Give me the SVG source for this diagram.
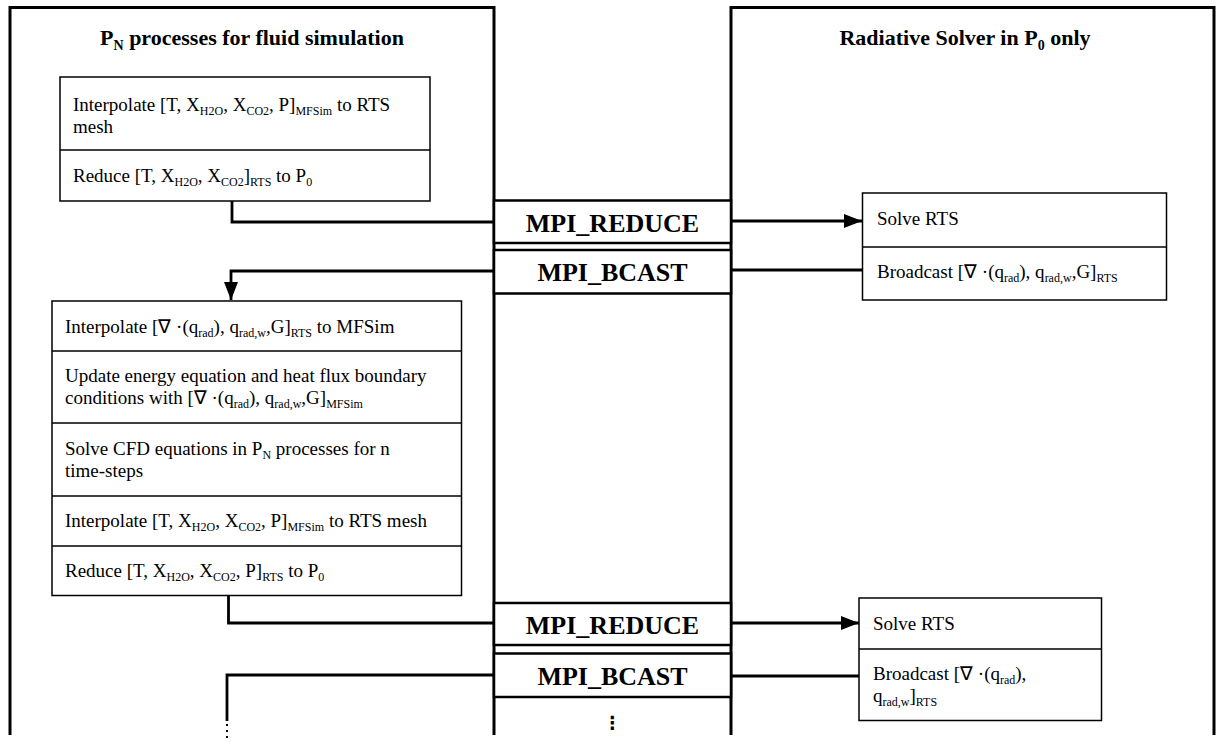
<svg xmlns="http://www.w3.org/2000/svg" width="1216" height="742" viewBox="0 0 1216 742">
<style>
text{font-family:"Liberation Serif","Times New Roman",serif;fill:#000}
.hd{font-size:22px;font-weight:bold}
.hs{font-size:14px}
.t{font-size:19px}
.s{font-size:12px}
.mpi{font-size:26px;font-weight:bold;text-anchor:middle}
.panel{fill:none;stroke:#000;stroke-width:3}
.box{fill:#fff;stroke:#000;stroke-width:1.5}
.mbox{fill:#fff;stroke:#000;stroke-width:2.5}
.c{fill:none;stroke:#000;stroke-width:2.8}
</style>
<defs>
<marker id="ah" markerUnits="userSpaceOnUse" markerWidth="18" markerHeight="14" refX="18" refY="7" orient="auto">
<path d="M0,0 L18,7 L0,14 Z" fill="#000"/>
</marker>
</defs>
<rect width="1216" height="742" fill="#fff"/>

<g id="panel-left">
<path class="panel" d="M10,735 V7.5 H494 V735"/>
<text class="hd" x="252" y="45" text-anchor="middle">P<tspan class="hs" dy="5">N</tspan><tspan dy="-5"> processes for fluid simulation</tspan></text>
</g>
<g id="panel-right">
<path class="panel" d="M731,735 V7.5 H1214 V735"/>
<text class="hd" x="965" y="45" text-anchor="middle">Radiative Solver in P<tspan class="hs" dy="5">0</tspan><tspan dy="-5"> only</tspan></text>
</g>

<g id="connectors">
<path class="c" d="M232,201 V222 H494"/>
<path class="c" d="M731,221 H862" marker-end="url(#ah)"/>
<path class="c" d="M862,270 H731"/>
<path class="c" d="M494,271 H231 V300" marker-end="url(#ah)"/>
<path class="c" d="M228.5,596 V623 H494"/>
<path class="c" d="M731,623 H859" marker-end="url(#ah)"/>
<path class="c" d="M859,676 H731"/>
<path class="c" d="M494,675 H227 V721"/>
<path d="M227,724 V742" fill="none" stroke="#000" stroke-width="2" stroke-dasharray="2 4"/>
</g>

<g id="box-top">
<rect class="box" x="60" y="77" width="370" height="124"/>
<line x1="60" y1="150" x2="430" y2="150" stroke="#000" stroke-width="1.5"/>
<text class="t" x="73" y="111">Interpolate [T, X<tspan class="s" dy="3.5">H2O</tspan><tspan dy="-3.5">, X</tspan><tspan class="s" dy="3.5">CO2</tspan><tspan dy="-3.5">, P]</tspan><tspan class="s" dy="3.5">MFSim</tspan><tspan dy="-3.5"> to RTS</tspan></text>
<text class="t" x="73" y="133">mesh</text>
<text class="t" x="73" y="182">Reduce [T, X<tspan class="s" dy="4">H2O</tspan><tspan dy="-4">, X</tspan><tspan class="s" dy="4">CO2</tspan><tspan dy="-4">]</tspan><tspan class="s" dy="4">RTS</tspan><tspan dy="-4"> to P</tspan><tspan class="s" dy="4">0</tspan></text>
</g>

<g id="mpi-reduce-1">
<rect class="mbox" x="494" y="200.5" width="237" height="42.5"/>
<text class="mpi" x="612.5" y="231.5">MPI_REDUCE</text>
</g>
<g id="mpi-bcast-1">
<rect class="mbox" x="494" y="250" width="237" height="43.5"/>
<text class="mpi" x="612.5" y="281">MPI_BCAST</text>
</g>

<g id="box-rts-1">
<rect class="box" x="862.5" y="193" width="304" height="107"/>
<line x1="862.5" y1="247" x2="1166.5" y2="247" stroke="#000" stroke-width="1.5"/>
<text class="t" x="877" y="225">Solve RTS</text>
<text class="t" x="877" y="278">Broadcast [∇ ·(q<tspan class="s" dy="4">rad</tspan><tspan dy="-4">), q</tspan><tspan class="s" dy="4">rad,w</tspan><tspan dy="-4">,G]</tspan><tspan class="s" dy="4">RTS</tspan></text>
</g>

<g id="box-middle">
<rect class="box" x="52" y="301" width="409.5" height="294.5"/>
<line x1="52" y1="351" x2="461.5" y2="351" stroke="#000" stroke-width="1.5"/>
<line x1="52" y1="423" x2="461.5" y2="423" stroke="#000" stroke-width="1.5"/>
<line x1="52" y1="496" x2="461.5" y2="496" stroke="#000" stroke-width="1.5"/>
<line x1="52" y1="546" x2="461.5" y2="546" stroke="#000" stroke-width="1.5"/>
<text class="t" x="65" y="333">Interpolate [∇ ·(q<tspan class="s" dy="4">rad</tspan><tspan dy="-4">), q</tspan><tspan class="s" dy="4">rad,w</tspan><tspan dy="-4">,G]</tspan><tspan class="s" dy="4">RTS</tspan><tspan dy="-4"> to MFSim</tspan></text>
<text class="t" x="65" y="382">Update energy equation and heat flux boundary</text>
<text class="t" x="65" y="404">conditions with [∇ ·(q<tspan class="s" dy="4">rad</tspan><tspan dy="-4">), q</tspan><tspan class="s" dy="4">rad,w</tspan><tspan dy="-4">,G]</tspan><tspan class="s" dy="4">MFSim</tspan></text>
<text class="t" x="65" y="455">Solve CFD equations in P<tspan class="s" dy="4">N</tspan><tspan dy="-4"> processes for n</tspan></text>
<text class="t" x="65" y="477">time-steps</text>
<text class="t" x="65" y="527">Interpolate [T, X<tspan class="s" dy="4">H2O</tspan><tspan dy="-4">, X</tspan><tspan class="s" dy="4">CO2</tspan><tspan dy="-4">, P]</tspan><tspan class="s" dy="4">MFSim</tspan><tspan dy="-4"> to RTS mesh</tspan></text>
<text class="t" x="65" y="577">Reduce [T, X<tspan class="s" dy="4">H2O</tspan><tspan dy="-4">, X</tspan><tspan class="s" dy="4">CO2</tspan><tspan dy="-4">, P]</tspan><tspan class="s" dy="4">RTS</tspan><tspan dy="-4"> to P</tspan><tspan class="s" dy="4">0</tspan></text>
</g>

<g id="mpi-reduce-2">
<rect class="mbox" x="494" y="603" width="237" height="42"/>
<text class="mpi" x="612.5" y="634">MPI_REDUCE</text>
</g>
<g id="mpi-bcast-2">
<rect class="mbox" x="494" y="653.5" width="237" height="43.5"/>
<text class="mpi" x="612.5" y="685">MPI_BCAST</text>
</g>
<g id="continuation">
<text x="612.5" y="729" text-anchor="middle" style="font-family:'DejaVu Sans',sans-serif;font-size:18px;font-weight:bold">⋮</text>
</g>

<g id="box-rts-2">
<rect class="box" x="859" y="598" width="242.5" height="122.5"/>
<line x1="859" y1="649" x2="1101.5" y2="649" stroke="#000" stroke-width="1.5"/>
<text class="t" x="873" y="630">Solve RTS</text>
<text class="t" x="873" y="680">Broadcast [∇ ·(q<tspan class="s" dy="4">rad</tspan><tspan dy="-4">),</tspan></text>
<text class="t" x="873" y="702">q<tspan class="s" dy="4">rad,w</tspan><tspan dy="-4">]</tspan><tspan class="s" dy="4">RTS</tspan></text>
</g>
</svg>
